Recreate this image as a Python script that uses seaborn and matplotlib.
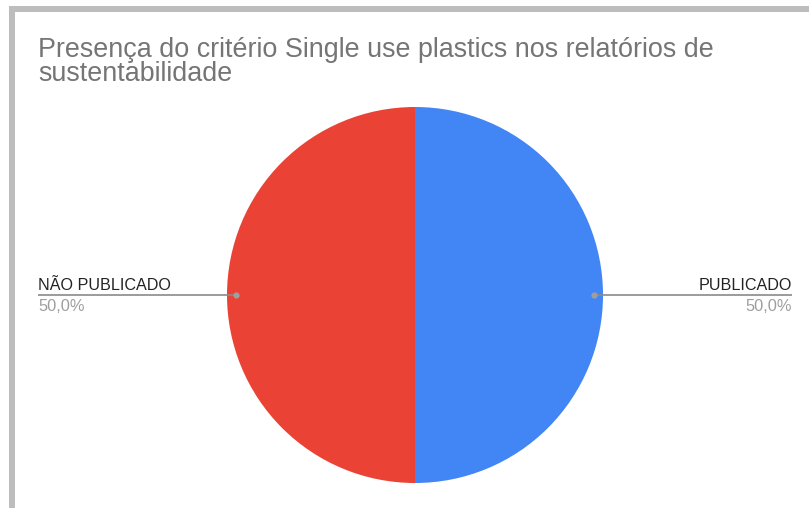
import matplotlib
matplotlib.use("Agg")
import matplotlib.pyplot as plt
import seaborn as sns
from matplotlib.patches import Rectangle

sns.set_theme(style="white")
plt.rcParams['font.family'] = ['Liberation Sans', 'DejaVu Sans']

labels = ["PUBLICADO", "NÃO PUBLICADO"]
values = [50.0, 50.0]
pct_labels = ["50,0%", "50,0%"]
colors = ["#4285f4", "#ea4335"]
title_lines = ["Presença do critério Single use plastics nos relatórios de", "sustentabilidade"]

W, H = 809, 508
fig = plt.figure(figsize=(W / 100, H / 100), dpi=100)
ax = fig.add_axes([0, 0, 1, 1])

# border
ax.add_patch(Rectangle((9, 6), W - 9, 6, color="#bdbdbd", lw=0))
ax.add_patch(Rectangle((9, 6), 6, H - 6, color="#bdbdbd", lw=0))

cx, cy, r = 415, 295, 188
ax.pie(values, colors=colors, center=(cx, cy), radius=r, startangle=-90,
       counterclock=True, wedgeprops=dict(linewidth=0), frame=True)
ax.set_xlim(0, W)
ax.set_ylim(H, 0)
ax.set_aspect("equal")
ax.axis("off")

# title
ax.text(38, 57, title_lines[0], fontsize=19.4, color="#757575", ha="left", va="baseline")
ax.text(38, 81, title_lines[1], fontsize=19.4, color="#757575", ha="left", va="baseline")

line_y = 295
# right (PUBLICADO)
ax.plot([594, 792], [line_y, line_y], color="#8a8a8a", lw=1.2, solid_capstyle="butt")
ax.plot([594], [line_y], "o", color="#9e9e9e", ms=4.5, mec="none")
ax.text(792, 290, labels[0], fontsize=11.6, color="#222222", ha="right", va="baseline")
ax.text(792, 311, pct_labels[0], fontsize=11.8, color="#9e9e9e", ha="right", va="baseline")
# left (NÃO PUBLICADO)
ax.plot([38, 236], [line_y, line_y], color="#8a8a8a", lw=1.2, solid_capstyle="butt")
ax.plot([236], [line_y], "o", color="#9e9e9e", ms=4.5, mec="none")
ax.text(38, 290, labels[1], fontsize=11.6, color="#222222", ha="left", va="baseline")
ax.text(38, 311, pct_labels[1], fontsize=11.8, color="#9e9e9e", ha="left", va="baseline")

fig.savefig("out.png", dpi=100, facecolor="white")
